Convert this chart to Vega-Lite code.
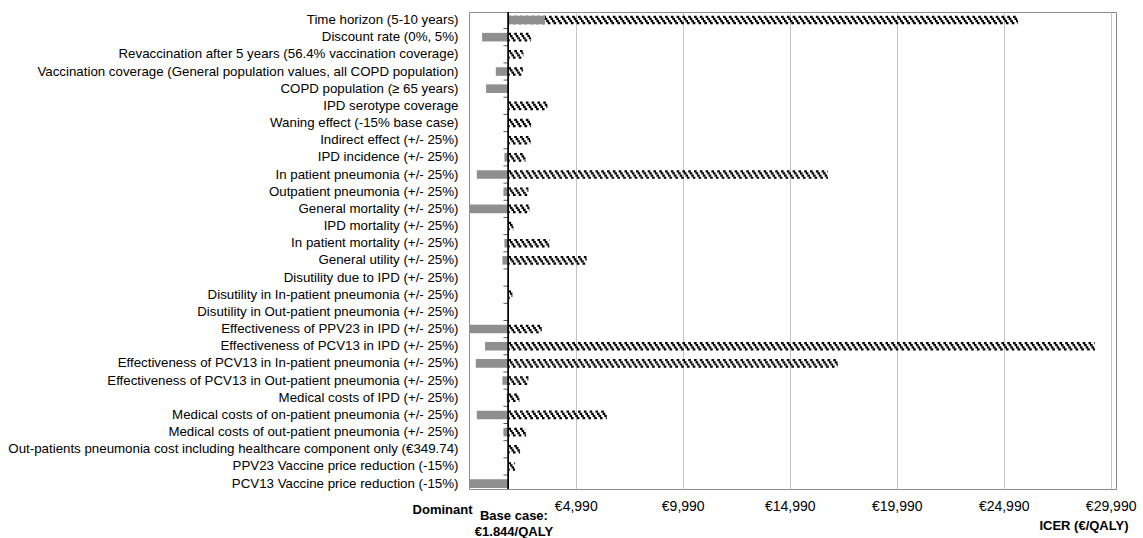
{
  "$schema": "https://vega.github.io/schema/vega-lite/v6.json",
  "width": 647,
  "height": 477,
  "autosize": {"type": "none"},
  "padding": {"left": 469, "top": 12, "right": 27, "bottom": 49},
  "config": {
    "font": "Liberation Sans",
    "view": {"stroke": "#8c8c8c"}
  },
  "data": {
    "values": [
      {"param": "Time horizon (5-10 years)", "base": 1844, "low": 3556, "high": 25664},
      {"param": "Discount rate (0%, 5%)", "base": 1844, "low": 612, "high": 2902},
      {"param": "Revaccination after 5 years (56.4% vaccination coverage)", "base": 1844, "low": null, "high": 2542},
      {"param": "Vaccination coverage (General population values, all COPD population)", "base": 1844, "low": 1252, "high": 2528},
      {"param": "COPD population (≥ 65 years)", "base": 1844, "low": 799, "high": null},
      {"param": "IPD serotype coverage", "base": 1844, "low": null, "high": 3664},
      {"param": "Waning effect (-15% base case)", "base": 1844, "low": null, "high": 2902},
      {"param": "Indirect effect (+/- 25%)", "base": 1844, "low": null, "high": 2886},
      {"param": "IPD incidence (+/- 25%)", "base": 1844, "low": 1655, "high": 2636},
      {"param": "In patient pneumonia (+/- 25%)", "base": 1844, "low": 364, "high": 16780},
      {"param": "Outpatient pneumonia (+/- 25%)", "base": 1844, "low": 1609, "high": 2776},
      {"param": "General mortality (+/- 25%)", "base": 1844, "low": 0, "high": 2823},
      {"param": "IPD mortality (+/- 25%)", "base": 1844, "low": null, "high": 2075},
      {"param": "In patient mortality (+/- 25%)", "base": 1844, "low": 1655, "high": 3757},
      {"param": "General utility (+/- 25%)", "base": 1844, "low": 1561, "high": 5505},
      {"param": "Disutility due to IPD (+/- 25%)", "base": 1844, "low": null, "high": null},
      {"param": "Disutility in In-patient pneumonia (+/- 25%)", "base": 1844, "low": null, "high": 2028},
      {"param": "Disutility in Out-patient pneumonia (+/- 25%)", "base": 1844, "low": null, "high": null},
      {"param": "Effectiveness of PPV23 in IPD (+/- 25%)", "base": 1844, "low": 0, "high": 3402},
      {"param": "Effectiveness of PCV13 in IPD (+/- 25%)", "base": 1844, "low": 752, "high": 29257},
      {"param": "Effectiveness of PCV13 in In-patient pneumonia (+/- 25%)", "base": 1844, "low": 318, "high": 17248},
      {"param": "Effectiveness of PCV13 in Out-patient pneumonia (+/- 25%)", "base": 1844, "low": 1561, "high": 2776},
      {"param": "Medical costs of IPD (+/- 25%)", "base": 1844, "low": 1766, "high": 2355},
      {"param": "Medical costs of on-patient pneumonia (+/- 25%)", "base": 1844, "low": 364, "high": 6439},
      {"param": "Medical costs of out-patient pneumonia (+/- 25%)", "base": 1844, "low": 1609, "high": 2668},
      {"param": "Out-patients pneumonia cost including healthcare component only (€349.74)", "base": 1844, "low": null, "high": 2388},
      {"param": "PPV23 Vaccine price reduction (-15%)", "base": 1844, "low": null, "high": 2154},
      {"param": "PCV13 Vaccine price reduction (-15%)", "base": 1844, "low": 0, "high": null}
    ]
  },
  "layer": [
    {
      "transform": [{"filter": "isValid(datum.high)"}],
      "mark": {"type": "rule", "color": "black", "strokeWidth": 2.2, "strokeDash": [2.6, 3.2], "strokeDashOffset": 0, "yOffset": -3.2},
      "encoding": {
        "y": {
          "field": "param", "type": "nominal",
          "scale": {
            "type": "band",
            "domain": [
              "Time horizon (5-10 years)",
              "Discount rate (0%, 5%)",
              "Revaccination after 5 years (56.4% vaccination coverage)",
              "Vaccination coverage (General population values, all COPD population)",
              "COPD population (≥ 65 years)",
              "IPD serotype coverage",
              "Waning effect (-15% base case)",
              "Indirect effect (+/- 25%)",
              "IPD incidence (+/- 25%)",
              "In patient pneumonia (+/- 25%)",
              "Outpatient pneumonia (+/- 25%)",
              "General mortality (+/- 25%)",
              "IPD mortality (+/- 25%)",
              "In patient mortality (+/- 25%)",
              "General utility (+/- 25%)",
              "Disutility due to IPD (+/- 25%)",
              "Disutility in In-patient pneumonia (+/- 25%)",
              "Disutility in Out-patient pneumonia (+/- 25%)",
              "Effectiveness of PPV23 in IPD (+/- 25%)",
              "Effectiveness of PCV13 in IPD (+/- 25%)",
              "Effectiveness of PCV13 in In-patient pneumonia (+/- 25%)",
              "Effectiveness of PCV13 in Out-patient pneumonia (+/- 25%)",
              "Medical costs of IPD (+/- 25%)",
              "Medical costs of on-patient pneumonia (+/- 25%)",
              "Medical costs of out-patient pneumonia (+/- 25%)",
              "Out-patients pneumonia cost including healthcare component only (€349.74)",
              "PPV23 Vaccine price reduction (-15%)",
              "PCV13 Vaccine price reduction (-15%)"
            ],
            "paddingInner": 0.5,
            "paddingOuter": 0.14,
            "align": 0.77
          },
          "axis": {
            "title": null,
            "ticks": false,
            "domain": false,
            "grid": false,
            "labelFontSize": 13.3,
            "labelPadding": 11,
            "labelLimit": 600,
            "labelColor": "black"
          }
        },
        "x": {
          "field": "base", "type": "quantitative",
          "scale": {"domain": [0, 30240], "nice": false, "zero": false},
          "axis": {
            "values": [0, 1844, 4990, 9990, 14990, 19990, 24990, 29990],
            "labelExpr": "datum.value == 0 ? 'Dominant' : datum.value == 1844 ? ['Base case:', '€1.844/QALY'] : '€' + format(datum.value, ',')",
            "labelFontSize": {"condition": {"test": "datum.value < 2000", "value": 13}, "value": 14},
            "labelColor": "black",
            "labelLineHeight": 16,
            "labelFontWeight": {"condition": {"test": "datum.value < 2000", "value": "bold"}, "value": "normal"},
            "labelAlign": {"condition": {"test": "datum.value == 0", "value": "right"}, "value": "center"},
            "labelPadding": {"condition": [{"test": "datum.value == 0", "value": 14}, {"test": "datum.value == 1844", "value": 20}], "value": 10},
            "labelOffset": {"condition": [{"test": "datum.value == 0", "value": 3}, {"test": "datum.value == 1844", "value": 5}], "value": 0},
            "ticks": false,
            "domain": false,
            "grid": true,
            "gridColor": "#c4c4c4",
            "gridOpacity": {"condition": {"test": "datum.value > 2000", "value": 1}, "value": 0},
            "title": "ICER (€/QALY)",
            "titleFontSize": 13,
            "titleFontWeight": "bold",
            "titleColor": "black",
            "titleAlign": "right",
            "titleBaseline": "middle",
            "titleX": 659,
            "titleY": 36
          }
        },
        "x2": {"field": "high"}
      }
    },
    {
      "transform": [{"filter": "isValid(datum.high)"}],
      "mark": {"type": "rule", "color": "black", "strokeWidth": 2.2, "strokeDash": [2.6, 3.2], "strokeDashOffset": -1.5, "yOffset": -1.07},
      "encoding": {
        "y": {"field": "param", "type": "nominal"},
        "x": {"field": "base", "type": "quantitative"},
        "x2": {"field": "high"}
      }
    },
    {
      "transform": [{"filter": "isValid(datum.high)"}],
      "mark": {"type": "rule", "color": "black", "strokeWidth": 2.2, "strokeDash": [2.6, 3.2], "strokeDashOffset": -3, "yOffset": 1.07},
      "encoding": {
        "y": {"field": "param", "type": "nominal"},
        "x": {"field": "base", "type": "quantitative"},
        "x2": {"field": "high"}
      }
    },
    {
      "transform": [{"filter": "isValid(datum.high)"}],
      "mark": {"type": "rule", "color": "black", "strokeWidth": 2.2, "strokeDash": [2.6, 3.2], "strokeDashOffset": -4.5, "yOffset": 3.2},
      "encoding": {
        "y": {"field": "param", "type": "nominal"},
        "x": {"field": "base", "type": "quantitative"},
        "x2": {"field": "high"}
      }
    },
    {
      "transform": [{"filter": "isValid(datum.low)"}],
      "mark": {"type": "bar", "color": "#8f8f8f"},
      "encoding": {
        "y": {"field": "param", "type": "nominal"},
        "x": {"field": "base", "type": "quantitative"},
        "x2": {"field": "low"}
      }
    },
    {
      "transform": [{"filter": "datum.param != 'PCV13 Vaccine price reduction (-15%)'"}],
      "mark": {"type": "rule", "color": "#555555", "strokeWidth": 1, "xOffset": -5, "yOffset": 8.585},
      "encoding": {
        "y": {"field": "param", "type": "nominal"},
        "x": {"field": "base", "type": "quantitative"},
        "x2": {"field": "base"}
      }
    },
    {
      "mark": {"type": "rule", "color": "black", "strokeWidth": 1},
      "encoding": {
        "x": {"field": "base", "type": "quantitative"}
      }
    }
  ]
}
